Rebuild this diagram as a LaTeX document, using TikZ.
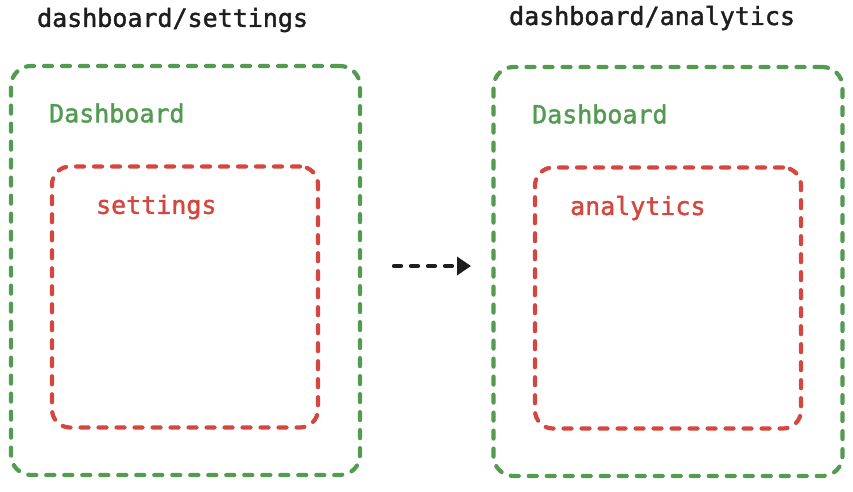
\documentclass[tikz,border=0pt]{standalone}
\usepackage{fontspec}
\setmonofont[FakeBold=1.6]{DejaVu Sans Mono}
\usetikzlibrary{arrows.meta,positioning}
\definecolor{boxgreen}{RGB}{82,155,80}
\definecolor{boxred}{RGB}{212,70,62}
\definecolor{inkblack}{RGB}{30,30,30}
\begin{document}
\begin{tikzpicture}[x=1pt,y=-1pt,line width=4.2pt,line cap=round,
  every node/.style={font=\ttfamily\fontsize{25}{28}\selectfont},
  outer box/.style={draw=boxgreen,dash pattern=on 8pt off 10pt,rounded corners=20pt,minimum width=349pt,minimum height=409pt,inner sep=0pt},
  inner box/.style={draw=boxred,dash pattern=on 8pt off 10pt,rounded corners=18pt,minimum width=266pt,minimum height=261pt,inner sep=0pt},
  title/.style={text=inkblack,anchor=west,inner sep=0pt},
  outer label/.style={text=boxgreen,anchor=west,inner sep=0pt},
  inner label/.style={text=boxred,anchor=west,inner sep=0pt}]
\useasboundingbox (0,0) rectangle (853,491);
\begin{scope}
\node[title] (tSettings) at (35,20) {dashboard/settings};
\node[outer box] (dashL) at (185.5,270.5) {};
\node[outer label] (lDashL) at (47,113) {Dashboard};
\node[inner box] (setBox) at (185,297) {};
\node[inner label] (lSet) at (94,207) {settings};
\end{scope}
\begin{scope}
\node[title] (tAnalytics) at (507,18) {dashboard/analytics};
\node[outer box] (dashR) at (668,271.5) {};
\node[outer label] (lDashR) at (530,114) {Dashboard};
\node[inner box] (anBox) at (668,298) {};
\node[inner label] (lAn) at (568,208) {analytics};
\end{scope}
\coordinate (arrowFrom) at (394,266);
\coordinate (arrowTo) at (471,266);
\draw[inkblack,line cap=round,dash pattern=on 7pt off 10pt,-{Triangle[length=14pt,width=18pt]}] (arrowFrom) -- (arrowTo);
\end{tikzpicture}
\end{document}
